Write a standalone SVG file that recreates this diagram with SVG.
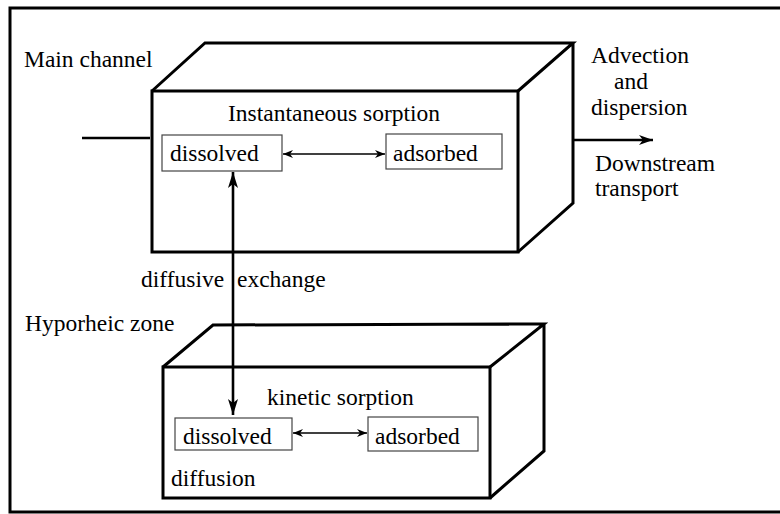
<svg xmlns="http://www.w3.org/2000/svg" width="780" height="514" viewBox="0 0 780 514">
<defs>
<style>
.t{font-family:"Liberation Serif","Times New Roman",serif;font-size:23.5px;fill:#000}
.box{fill:none;stroke:#000;stroke-width:3;stroke-linejoin:miter}
.ibox{fill:#fff;stroke:#444;stroke-width:1.2}
.thin{stroke:#000;stroke-width:1.3;fill:none}
.thick{stroke:#000;stroke-width:2.6;fill:none}
</style>
<marker id="sa" viewBox="0 0 10 8" refX="10" refY="4" markerWidth="10" markerHeight="8" markerUnits="userSpaceOnUse" orient="auto-start-reverse">
<path d="M0,0 L10,4 L0,8 L3,4 z" fill="#000"/>
</marker>
<marker id="ta" viewBox="0 0 16 10" refX="16" refY="5" markerWidth="16" markerHeight="10" markerUnits="userSpaceOnUse" orient="auto-start-reverse">
<path d="M0,0 L16,5 L0,10 L4,5 z" fill="#000"/>
</marker>
<marker id="ra" viewBox="0 0 14 10" refX="14" refY="5" markerWidth="14" markerHeight="10" markerUnits="userSpaceOnUse" orient="auto">
<path d="M0,0 L14,5 L0,10 L4,5 z" fill="#000"/>
</marker>
</defs>
<rect width="780" height="514" fill="#fff"/>
<path d="M782,8 H10 V512 H782" fill="none" stroke="#000" stroke-width="3"/>

<g id="main-channel">
<rect class="box" x="152" y="91" width="366" height="161" fill="#fff"/>
<path class="box" d="M152,91 L205,43 L573,43 L518,91 M573,43 L573,203 L518,252"/>
<text class="t" x="24" y="67">Main channel</text>
<text class="t" x="228" y="121">Instantaneous sorption</text>
</g>
<g id="mc-dissolved">
<rect class="ibox" x="162" y="135" width="120" height="36"/>
<text class="t" x="170" y="161">dissolved</text>
</g>
<g id="mc-adsorbed">
<rect class="ibox" x="386" y="134" width="116" height="35"/>
<text class="t" x="393" y="161">adsorbed</text>
</g>

<g id="hyporheic-zone">
<rect class="box" x="163" y="367" width="327" height="131" fill="#fff"/>
<path class="box" d="M163,367 L213,325 L544,324 L490,367 M544,324 L544,451 L490,498"/>
<text class="t" x="25" y="331">Hyporheic zone</text>
<text class="t" x="267" y="405">kinetic sorption</text>
<text class="t" x="171" y="486">diffusion</text>
</g>
<g id="hz-dissolved">
<rect class="ibox" x="175" y="418" width="117" height="32"/>
<text class="t" x="183" y="444">dissolved</text>
</g>
<g id="hz-adsorbed">
<rect class="ibox" x="368" y="417" width="110" height="34"/>
<text class="t" x="375" y="444">adsorbed</text>
</g>

<g id="labels">
<text class="t" x="591" y="63">Advection</text>
<text class="t" x="614" y="89">and</text>
<text class="t" x="591" y="115">dispersion</text>
<text class="t" x="595" y="171">Downstream</text>
<text class="t" x="595" y="196">transport</text>
<text class="t" x="141" y="287">diffusive</text>
<text class="t" x="237" y="287">exchange</text>
</g>

<g id="connectors">
<line class="thick" x1="82" y1="138" x2="150" y2="138" stroke-width="3"/>
<line class="thick" x1="573" y1="140" x2="653" y2="140" stroke-width="3" marker-end="url(#ra)"/>
<line class="thin" x1="283" y1="154" x2="385" y2="154" marker-start="url(#sa)" marker-end="url(#sa)"/>
<line class="thin" x1="293" y1="433" x2="367" y2="433" marker-start="url(#sa)" marker-end="url(#sa)"/>
<line class="thick" x1="233" y1="172" x2="233" y2="415" marker-start="url(#ta)" marker-end="url(#ta)"/>
</g>
</svg>
